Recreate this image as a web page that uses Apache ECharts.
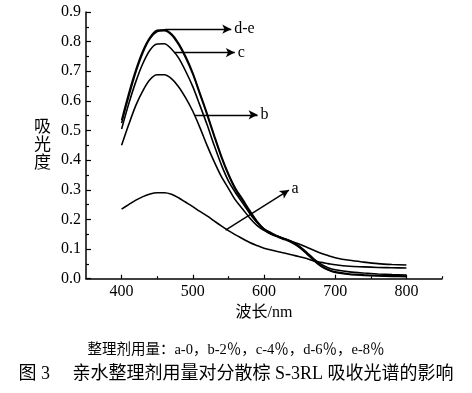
<!DOCTYPE html>
<html><head><meta charset="utf-8">
<script src="https://cdn.jsdelivr.net/npm/echarts@6/dist/echarts.min.js"></script>
<style>html,body{margin:0;padding:0;background:#fff}#c{width:472px;height:393px}</style>
</head><body><div id="c"></div>
<script>
const wavelengths = [400,410,420,430,440,450,460,470,480,490,500,510,520,530,540,550,560,570,580,590,600,610,620,630,640,650,660,670,680,690,700,720,740,760,780,800];
const seriesA = [0.235,0.25,0.265,0.277,0.286,0.29,0.29,0.285,0.273,0.258,0.243,0.227,0.212,0.195,0.178,0.162,0.148,0.135,0.122,0.112,0.103,0.097,0.091,0.086,0.08,0.074,0.068,0.06,0.055,0.051,0.047,0.042,0.04,0.038,0.037,0.036];
const seriesB = [0.45,0.52,0.585,0.635,0.672,0.688,0.688,0.675,0.648,0.61,0.565,0.51,0.45,0.395,0.345,0.305,0.265,0.235,0.205,0.18,0.163,0.152,0.142,0.134,0.125,0.116,0.106,0.096,0.086,0.078,0.071,0.062,0.056,0.051,0.048,0.046];
const seriesC = [0.505,0.59,0.665,0.727,0.772,0.792,0.793,0.775,0.745,0.70,0.648,0.585,0.52,0.45,0.385,0.33,0.29,0.255,0.22,0.19,0.168,0.155,0.143,0.134,0.124,0.109,0.089,0.067,0.049,0.037,0.03,0.023,0.019,0.016,0.014,0.0125];
const seriesD = [0.535,0.625,0.705,0.77,0.815,0.838,0.84,0.826,0.795,0.75,0.695,0.627,0.558,0.485,0.415,0.355,0.305,0.268,0.23,0.195,0.168,0.152,0.142,0.133,0.122,0.107,0.086,0.063,0.044,0.031,0.023,0.016,0.013,0.011,0.01,0.009];
const seriesE = [0.525,0.615,0.697,0.763,0.81,0.834,0.837,0.823,0.79,0.745,0.69,0.622,0.553,0.48,0.41,0.35,0.3,0.263,0.226,0.192,0.165,0.15,0.14,0.131,0.12,0.105,0.084,0.061,0.042,0.029,0.021,0.014,0.011,0.009,0.008,0.007];
const xMajorTicks = [400,500,600,700,800];
const xMinorTicks = [450,550,650,750,850];
// annotation arrows: [label, fromX, fromY, toX, toY]
const annoDE = ['d-e', 461, 0.842, 554, 0.842];
const annoC = ['c', 474, 0.763, 559, 0.763];
const annoB = ['b', 503, 0.553, 591, 0.553];
const annoA = ['a', 546, 0.164, 635, 0.299];
const caption1 = '整理剂用量：a-0，b-2％，c-4％，d-6％，e-8％';
const caption2 = '图 3 　亲水整理剂用量对分散棕 S-3RL 吸收光谱的影响';

const FONT = '"Liberation Serif", "Noto Sans CJK SC", serif';
function pairs(ys){ return wavelengths.map((x,i)=>[x,ys[i]]); }
function arrow(a){
  return [{coord:[a[1],a[2]]},{coord:[a[3],a[4]], label:{formatter:a[0]}}];
}
const lineStyle = {color:'#000', width:1.6};
function mkSeries(name, ys, mark){
  const s = {name, type:'line', data:pairs(ys), smooth:0.3, showSymbol:false, symbol:'none',
    lineStyle, silent:true, animation:false};
  if (mark) {
    s.markLine = {silent:true, animation:false, symbol:['none','arrow'], symbolSize:[7,9],
      lineStyle:{color:'#000', width:1.4, type:'solid'},
      label:{show:true, position:'end', color:'#000', fontFamily:FONT, fontSize:16, distance:3},
      data:[arrow(mark)]};
  }
  return s;
}
const chart = echarts.init(document.getElementById('c'), null, {renderer:'canvas'});
chart.setOption({
  backgroundColor:'#fff',
  animation:false,
  title:[
    {text:caption1, left:'center', top:338, textStyle:{fontFamily:FONT, fontSize:14.5, fontWeight:'normal', color:'#000'}},
    {text:caption2, left:'center', top:360, textStyle:{fontFamily:FONT, fontSize:18, fontWeight:'normal', color:'#000'}}
  ],
  grid:{left:86, right:30, top:12, bottom:114.3, containLabel:false},
  xAxis:[
    {type:'value', min:350, max:850, position:'bottom',
     name:'波长/nm', nameLocation:'middle', nameGap:23,
     nameTextStyle:{fontFamily:FONT, fontSize:16, color:'#000'},
     axisLine:{lineStyle:{color:'#000', width:1.5}},
     axisTick:{show:true, inside:true, length:4, customValues:xMajorTicks, lineStyle:{color:'#000', width:1.2}},
     axisLabel:{customValues:xMajorTicks, fontFamily:FONT, fontSize:16, color:'#000', margin:5},
     splitLine:{show:false}},
    {type:'value', min:350, max:850, position:'bottom',
     axisLine:{show:false},
     axisTick:{show:true, inside:true, length:2.5, customValues:xMinorTicks, lineStyle:{color:'#000', width:1.2}},
     axisLabel:{show:false}, splitLine:{show:false}}
  ],
  yAxis:{type:'value', min:0, max:0.9, interval:0.1,
    name:'吸\n光\n度', nameLocation:'middle', nameRotate:0, nameGap:35,
    nameTextStyle:{fontFamily:FONT, fontSize:17, color:'#000', lineHeight:18},
    axisLine:{show:true, lineStyle:{color:'#000', width:1.5}},
    axisTick:{show:true, inside:true, length:5, lineStyle:{color:'#000', width:1.2}},
    minorTick:{show:true, splitNumber:2, length:3, lineStyle:{color:'#000', width:1.2}},
    axisLabel:{fontFamily:FONT, fontSize:16, color:'#000', margin:5, formatter:v=>v.toFixed(1)},
    splitLine:{show:false}},
  series:[
    mkSeries('a', seriesA, annoA),
    mkSeries('b', seriesB, annoB),
    mkSeries('c', seriesC, annoC),
    mkSeries('d', seriesD, annoDE),
    mkSeries('e', seriesE, null)
  ]
});
</script></body></html>
